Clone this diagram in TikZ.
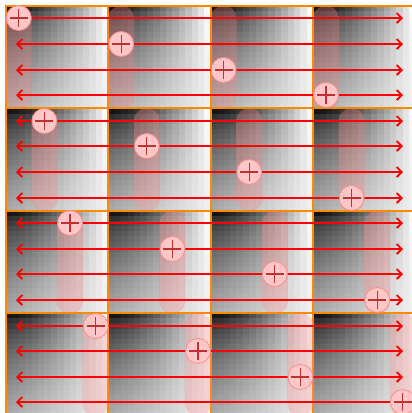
\documentclass[tikz,border=0pt]{standalone}
\usepackage{tikz}
\usetikzlibrary{arrows.meta}
\definecolor{tileorange}{HTML}{FF8A00}
\definecolor{arrowred}{HTML}{FF0000}
\definecolor{plusred}{HTML}{C03030}

\begin{document}
\begin{tikzpicture}[
    x=1pt, y=-1pt,
    tileframe/.style={draw=tileorange, line width=1.9pt},
    pill/.style={fill=red!45, fill opacity=0.3, draw=red!60, draw opacity=0.5,
                 densely dotted, line width=0.5pt, rounded corners=12.5pt},
    arrow/.style={{Straight Barb[length=5pt,width=10pt]}-{Straight Barb[length=5pt,width=10pt]},
                  line width=1.8pt, draw=arrowred},
    adder/.style={circle, minimum size=25pt, inner sep=0pt, fill=red!22, draw=red!45,
                  line width=0.8pt,
                  path picture={\draw[plusred, line width=1.2pt]
                      ([xshift=-9pt]path picture bounding box.center) -- ([xshift=9pt]path picture bounding box.center)
                      ([yshift=-9pt]path picture bounding box.center) -- ([yshift=9pt]path picture bounding box.center);}}
]
    \useasboundingbox (0,0) rectangle (412,413);
    \clip (0,0) rectangle (412,413);

    \foreach \r in {0,...,3}{
        \foreach \c in {0,...,3}{
            \foreach \j in {0,...,15}{
                \pgfmathsetmacro\tp{92-90*(\j/15)^1.5}
                \pgfmathsetmacro\bp{34-28*\j/15}
                \foreach \i in {0,...,19}{
                    \pgfmathsetmacro\pc{\tp+(\bp-\tp)*(\i/19)^0.6}
                    \fill[black!\pc] ({6+102.4*\c+6.4*\j},{6+102.4*\r+5.12*\i}) rectangle +(6.7,5.4);
                }
            }
            \draw[tileframe] ({6+102.4*\c},{6+102.4*\r}) rectangle +(102.4,102.4);
        }
    }

    \foreach \r in {0,...,3}{
        \foreach \c in {0,...,3}
            \draw[pill] ({6+102.4*\c+25.6*\r},{6+102.4*\r}) rectangle +(25.6,102.4);
    }

    \foreach \k in {0,...,15}{
        \pgfmathtruncatemacro\yk{round(18.3+25.6*\k)}
        \coordinate (west\k) at (16,\yk);
        \coordinate (east\k) at (403,\yk);
        \draw[arrow] (west\k) -- (east\k);
    }

    \foreach \r in {0,...,3}{
        \foreach \c in {0,...,3}{
            \pgfmathtruncatemacro\k{4*\r+\c}
            \pgfmathtruncatemacro\yk{round(18.3+25.6*\k)}
            \node[adder] (sum\k) at ({18.8+102.4*\c+25.6*\r},\yk) {};
        }
    }
\end{tikzpicture}
\end{document}
